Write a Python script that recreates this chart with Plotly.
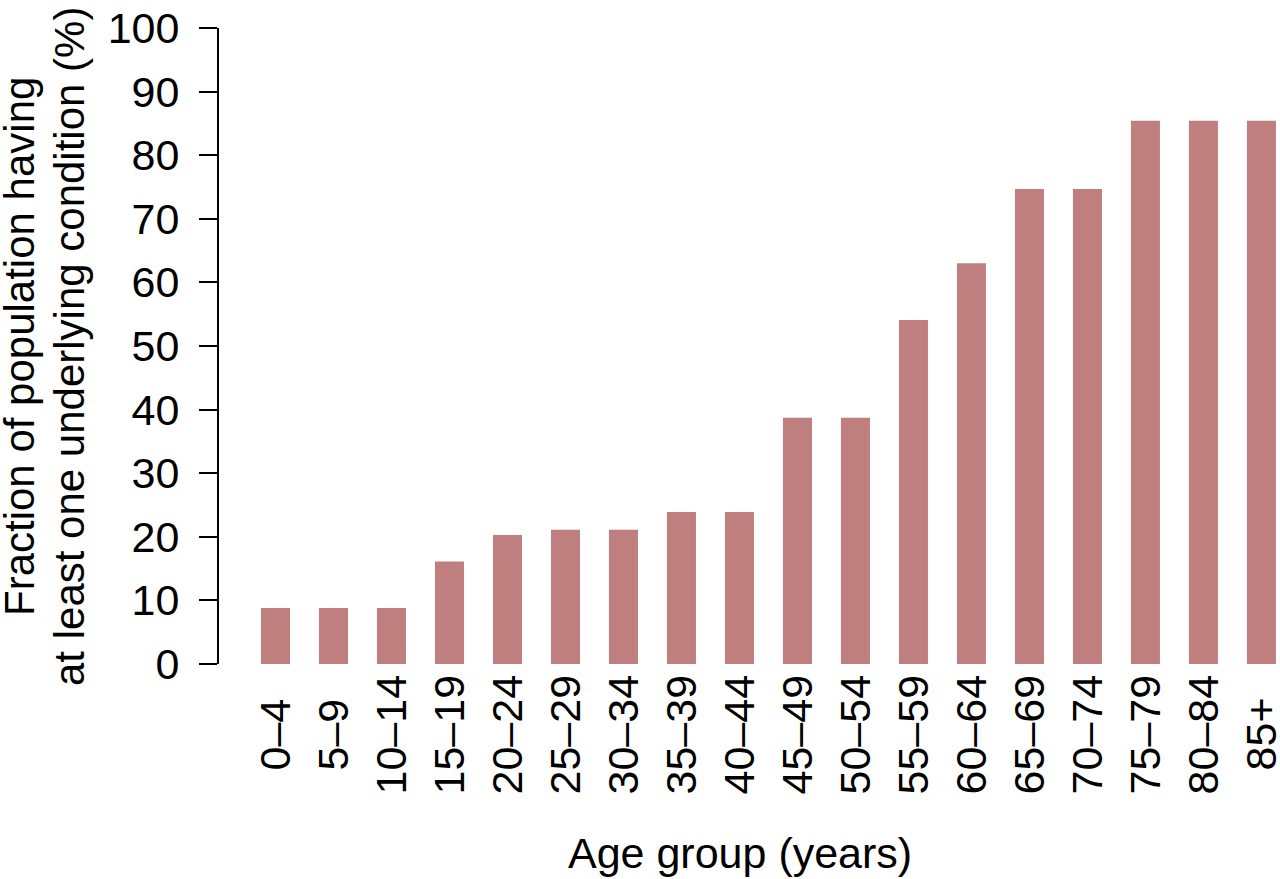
import plotly.graph_objects as go

age_groups = ["0–4", "5–9", "10–14", "15–19", "20–24", "25–29", "30–34", "35–39",
              "40–44", "45–49", "50–54", "55–59", "60–64", "65–69", "70–74",
              "75–79", "80–84", "85+"]
fraction_pct = [8.8, 8.8, 8.8, 16.1, 20.3, 21.1, 21.1, 23.9, 23.9, 38.7, 38.7,
                54.1, 63.0, 74.7, 74.7, 85.4, 85.4, 85.4]
y_ticks = list(range(0, 101, 10))

FONT = "Liberation Sans, Arial, Helvetica, sans-serif"
FS = 43
BAR_COLOR = "#bf7f7f"

fig = go.Figure()
fig.add_trace(go.Bar(x=age_groups, y=fraction_pct, marker_color=BAR_COLOR,
                     marker_line_width=0, showlegend=False))

W, H = 1280, 879
L, R, T, B = 219, 0, 28, 215

annotations = []
# category labels, rotated and centered below the bars
for g in age_groups:
    annotations.append(dict(
        x=g, xref="x", y=0, yref="paper", yshift=-70, yanchor="middle",
        xanchor="center", text=g, textangle=-90, showarrow=False, borderpad=0,
        font=dict(family=FONT, size=FS, color="black")))
# x axis title
annotations.append(dict(
    x=0, xref="paper", xshift=740 - L, y=0, yref="paper", yshift=-189,
    xanchor="center", yanchor="middle", text="Age group (years)",
    showarrow=False, font=dict(family=FONT, size=FS, color="black")))
# y axis title (two lines)
annotations.append(dict(
    x=0, xref="paper", xshift=19 - L, y=0.5, yref="paper", yshift=-1,
    xanchor="center", yanchor="middle", text="Fraction of population having",
    textangle=-90, showarrow=False, borderpad=0,
    font=dict(family=FONT, size=42, color="black")))
annotations.append(dict(
    x=0, xref="paper", xshift=69 - L, y=0.5, yref="paper", yshift=-1,
    xanchor="center", yanchor="middle", text="at least one underlying condition (%)",
    textangle=-90, showarrow=False, borderpad=0,
    font=dict(family=FONT, size=42, color="black")))

fig.update_layout(
    width=W, height=H,
    margin=dict(l=L, r=R, t=T, b=B, pad=0),
    paper_bgcolor="white", plot_bgcolor="white",
    bargap=0.5,
    font=dict(family=FONT, size=FS, color="black"),
    xaxis=dict(type="category", range=[-0.974, 17.32], showticklabels=False,
               showline=False, showgrid=False, zeroline=False, ticks=""),
    yaxis=dict(range=[0, 100], tickvals=y_ticks, ticks="outside", ticklen=18,
               tickwidth=2, tickcolor="black", showline=True, linewidth=2,
               linecolor="black", showgrid=False, zeroline=False,
               ticklabelstandoff=11, ticklabeloverflow="allow",
               tickfont=dict(family=FONT, size=FS, color="black")),
    annotations=annotations,
)

# remove the default 8px page margin so the figure fills the window exactly
fig.write_html("out.html",
               config={"displayModeBar": False},
               post_script="document.body.style.margin='0px';"
                           "document.body.style.overflow='hidden';")
